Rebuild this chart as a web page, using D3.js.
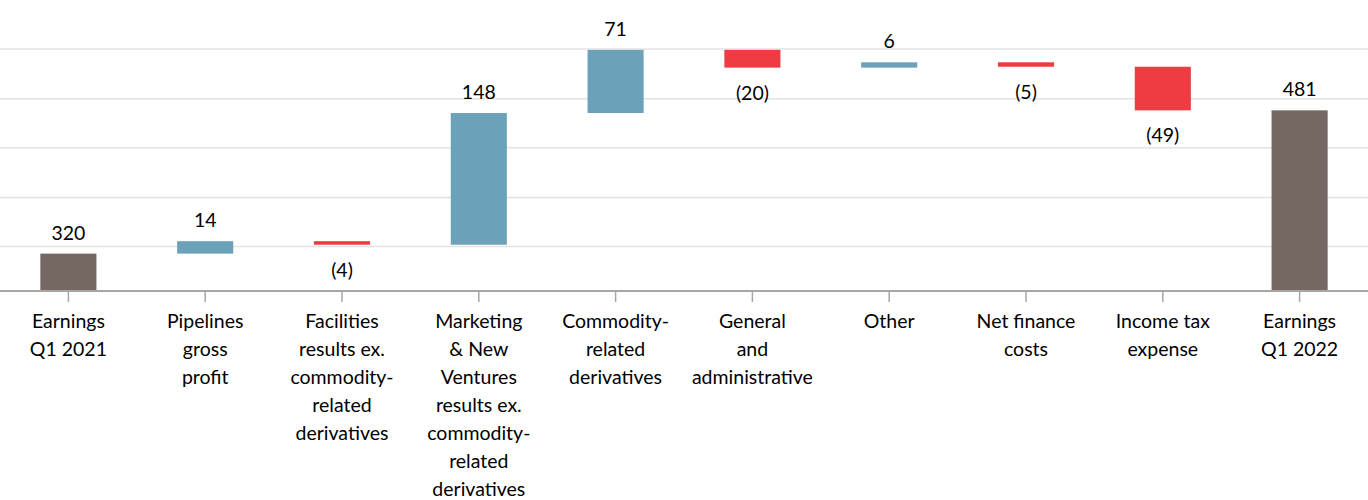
<!DOCTYPE html>
<html>
<head>
<meta charset="utf-8">
<script src="https://cdn.jsdelivr.net/npm/d3@7"></script>
<style>
  html, body { margin: 0; padding: 0; background: #fff; }
  svg { display: block; }
  text { font-family: Lato, "Open Sans", sans-serif; fill: #000; }
</style>
</head>
<body>
<svg id="chart" width="1368" height="500"></svg>
<script>
// ---- data ----
const categories = [
  ["Earnings", "Q1 2021"],
  ["Pipelines", "gross", "profit"],
  ["Facilities", "results ex.", "commodity-", "related", "derivatives"],
  ["Marketing", "& New", "Ventures", "results ex.", "commodity-", "related", "derivatives"],
  ["Commodity-", "related", "derivatives"],
  ["General", "and", "administrative"],
  ["Other"],
  ["Net finance", "costs"],
  ["Income tax", "expense"],
  ["Earnings", "Q1 2022"]
];
const values = [320, 14, -4, 148, 71, -20, 6, -5, -49, 481];
const kinds = ["total", "delta", "delta", "delta", "delta", "delta", "delta", "delta", "delta", "total"];
const valueLabels = ["320", "14", "(4)", "148", "71", "(20)", "6", "(5)", "(49)", "481"];
const gridValues = [328, 383, 439, 494, 550];
const yDomain = [278, 605];

// ---- build waterfall steps ----
let running = 0;
const steps = values.map((v, i) => {
  let start, end;
  if (kinds[i] === "total") { start = yDomain[0]; end = v; running = v; }
  else { start = running; end = running + v; running = end; }
  return { i, v, start, end, kind: kinds[i], label: valueLabels[i], cat: categories[i] };
});

const colors = { total: "#756862", up: "#6ba2ba", down: "#ee3c42" };

const W = 1368, H = 500;
const svg = d3.select("#chart");

const x = d3.scaleBand()
  .domain(d3.range(categories.length))
  .range([0, W])
  .paddingInner(0.59)
  .paddingOuter(0.295);

const y = d3.scaleLinear().domain(yDomain).range([291, 0]);

// gridlines
svg.append("g").selectAll("line").data(gridValues).join("line")
  .attr("x1", 0).attr("x2", W)
  .attr("y1", d => y(d)).attr("y2", d => y(d))
  .attr("stroke", "#e3e3e3").attr("stroke-width", 1.5);

// bars
svg.append("g").selectAll("rect").data(steps).join("rect")
  .attr("x", d => x(d.i))
  .attr("width", x.bandwidth())
  .attr("y", d => y(Math.max(d.start, d.end)))
  .attr("height", d => Math.abs(y(d.start) - y(d.end)))
  .attr("fill", d => d.kind === "total" ? colors.total : (d.v >= 0 ? colors.up : colors.down));

// axis
const axis = d3.axisBottom(x).tickSize(11).tickFormat("");
const gAxis = svg.append("g").attr("transform", `translate(0,${y(yDomain[0])})`).call(axis);
gAxis.select(".domain").attr("d", `M0,0H${W}`).attr("stroke", "#a6a6a6").attr("stroke-width", 2);
gAxis.selectAll(".tick line").attr("stroke", "#a6a6a6").attr("stroke-width", 1.5);

// value labels
svg.append("g").selectAll("text").data(steps).join("text")
  .attr("x", d => x(d.i) + x.bandwidth() / 2)
  .attr("y", d => d.v >= 0 ? y(Math.max(d.start, d.end)) - 14 : y(Math.min(d.start, d.end)) + 32)
  .attr("text-anchor", "middle")
  .style("font-size", "19.5px")
  .text(d => d.label);

// category labels
const catG = svg.append("g").selectAll("text").data(steps).join("text")
  .attr("x", d => x(d.i) + x.bandwidth() / 2)
  .attr("y", 328)
  .attr("text-anchor", "middle")
  .style("font-size", "19.5px");
catG.selectAll("tspan").data(d => d.cat.map(t => ({ t, cx: x(d.i) + x.bandwidth() / 2 }))).join("tspan")
  .attr("x", d => d.cx)
  .attr("dy", (d, j) => j === 0 ? 0 : 28)
  .text(d => d.t);
</script>
</body>
</html>
